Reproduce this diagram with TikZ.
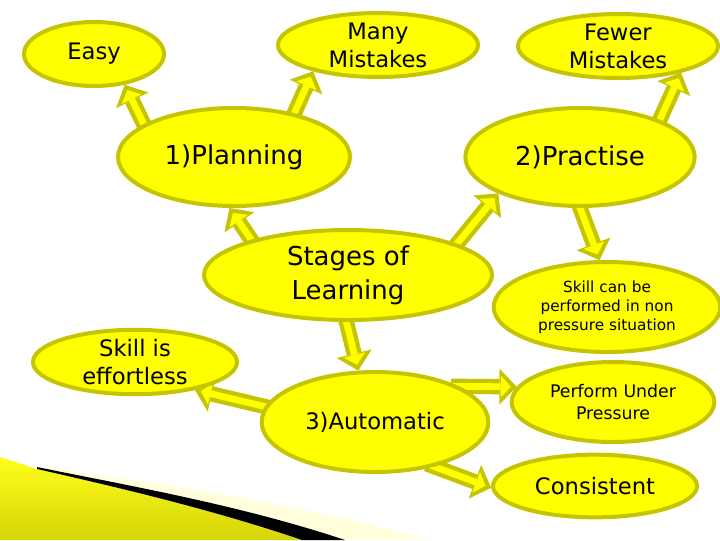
\documentclass[tikz,border=0pt]{standalone}
\usepackage{fontspec}
\setmainfont{DejaVu Sans}
\usetikzlibrary{shapes.geometric,arrows.meta,backgrounds}
\definecolor{rimolive}{RGB}{196,196,0}
\definecolor{bubble}{RGB}{255,255,0}
\definecolor{stripe}{RGB}{212,212,10}
\tikzset{
  bubble/.style={ellipse,draw=rimolive,fill=bubble,line width=3pt,inner sep=0pt,align=center},
  big/.style={font=\fontsize{19.5}{25.5}\selectfont},
  mid/.style={font=\fontsize{17}{21}\selectfont},
  small/.style={font=\fontsize{13}{16}\selectfont},
  tiny/.style={font=\fontsize{11.5}{14.3}\selectfont},
  arrowout/.style={draw=rimolive,line width=11.5pt,shorten <=-6pt,
    -{Triangle[width=27pt,length=13pt,line width=0pt]}},
  arrowin/.style={draw=bubble,line width=5pt,shorten <=-8pt,shorten >=4.5pt,
    -{Triangle[width=16.5pt,length=7.5pt,line width=0pt]}}
}
\newcommand\barrow[2]{%
  \draw[arrowout] (#1) -- (#2);
  \draw[arrowin] (#1) -- (#2);}

\begin{document}
\begin{tikzpicture}[x=0.75pt,y=-0.75pt]
  \useasboundingbox (0,0) rectangle (720,540);

  % corner decoration
  \fill[bubble!14]
    (37,467) .. controls (180,484) and (330,512) .. (430,540) -- (345,540)
    .. controls (240,505) and (130,486) .. (37,467) -- cycle;
  \shade[top color=bubble!90!white,bottom color=stripe]
    (0,457) -- (37,469) .. controls (130,490) and (220,512) .. (302,540) -- (0,540) -- cycle;
  \fill[black]
    (37,467) .. controls (130,486) and (240,505) .. (345,540) -- (302,540)
    .. controls (220,512) and (130,490) .. (37,469) -- cycle;

  % bubbles
  \node[bubble,mid,minimum width=105pt,minimum height=48pt] (easy) at (94,54) {Easy};
  \node[bubble,mid,minimum width=150pt,minimum height=48pt] (many) at (378,45) {Many\\Mistakes};
  \node[bubble,mid,minimum width=150pt,minimum height=48pt] (fewer) at (618,46) {Fewer\\Mistakes};
  \node[bubble,big,minimum width=174pt,minimum height=73.5pt] (plan) at (234,157) {1)Planning};
  \node[bubble,big,minimum width=172pt,minimum height=73.5pt] (prac) at (580,157) {2)Practise};
  \node[bubble,big,minimum width=216pt,minimum height=67.5pt] (stages) at (348,275) {Stages of\\Learning};
  \node[bubble,mid,minimum width=153pt,minimum height=46.5pt] (effort) at (135,362) {Skill is\\effortless};
  \node[bubble,mid,minimum width=170pt,minimum height=75pt] (auto) at (375,422) {3)Automatic};
  \node[bubble,tiny,minimum width=170pt,minimum height=67.5pt] (nonpress) at (607,307)
    {Skill can be\\performed in non\\pressure situation};
  \node[bubble,small,minimum width=152pt,minimum height=60pt] (underp) at (613,402) {Perform Under\\Pressure};
  \node[bubble,mid,minimum width=153pt,minimum height=47pt] (consist) at (595,486) {Consistent};

  % block arrows
  \begin{scope}[on background layer]
    \barrow{plan.160}{easy.-45}
    \barrow{plan.36}{many.202}
    \barrow{stages.160}{plan.265}
    \barrow{stages.16}{prac.204}
    \barrow{prac.25}{fewer.-23}
    \barrow{prac.-90}{nonpress.99}
    \barrow{stages.-92}{auto.108}
    \barrow{auto.172}{effort.-25}
    \barrow{auto.23}{underp.171}
    \barrow{auto.-37}{consist.181}
  \end{scope}
\end{tikzpicture}
\end{document}
